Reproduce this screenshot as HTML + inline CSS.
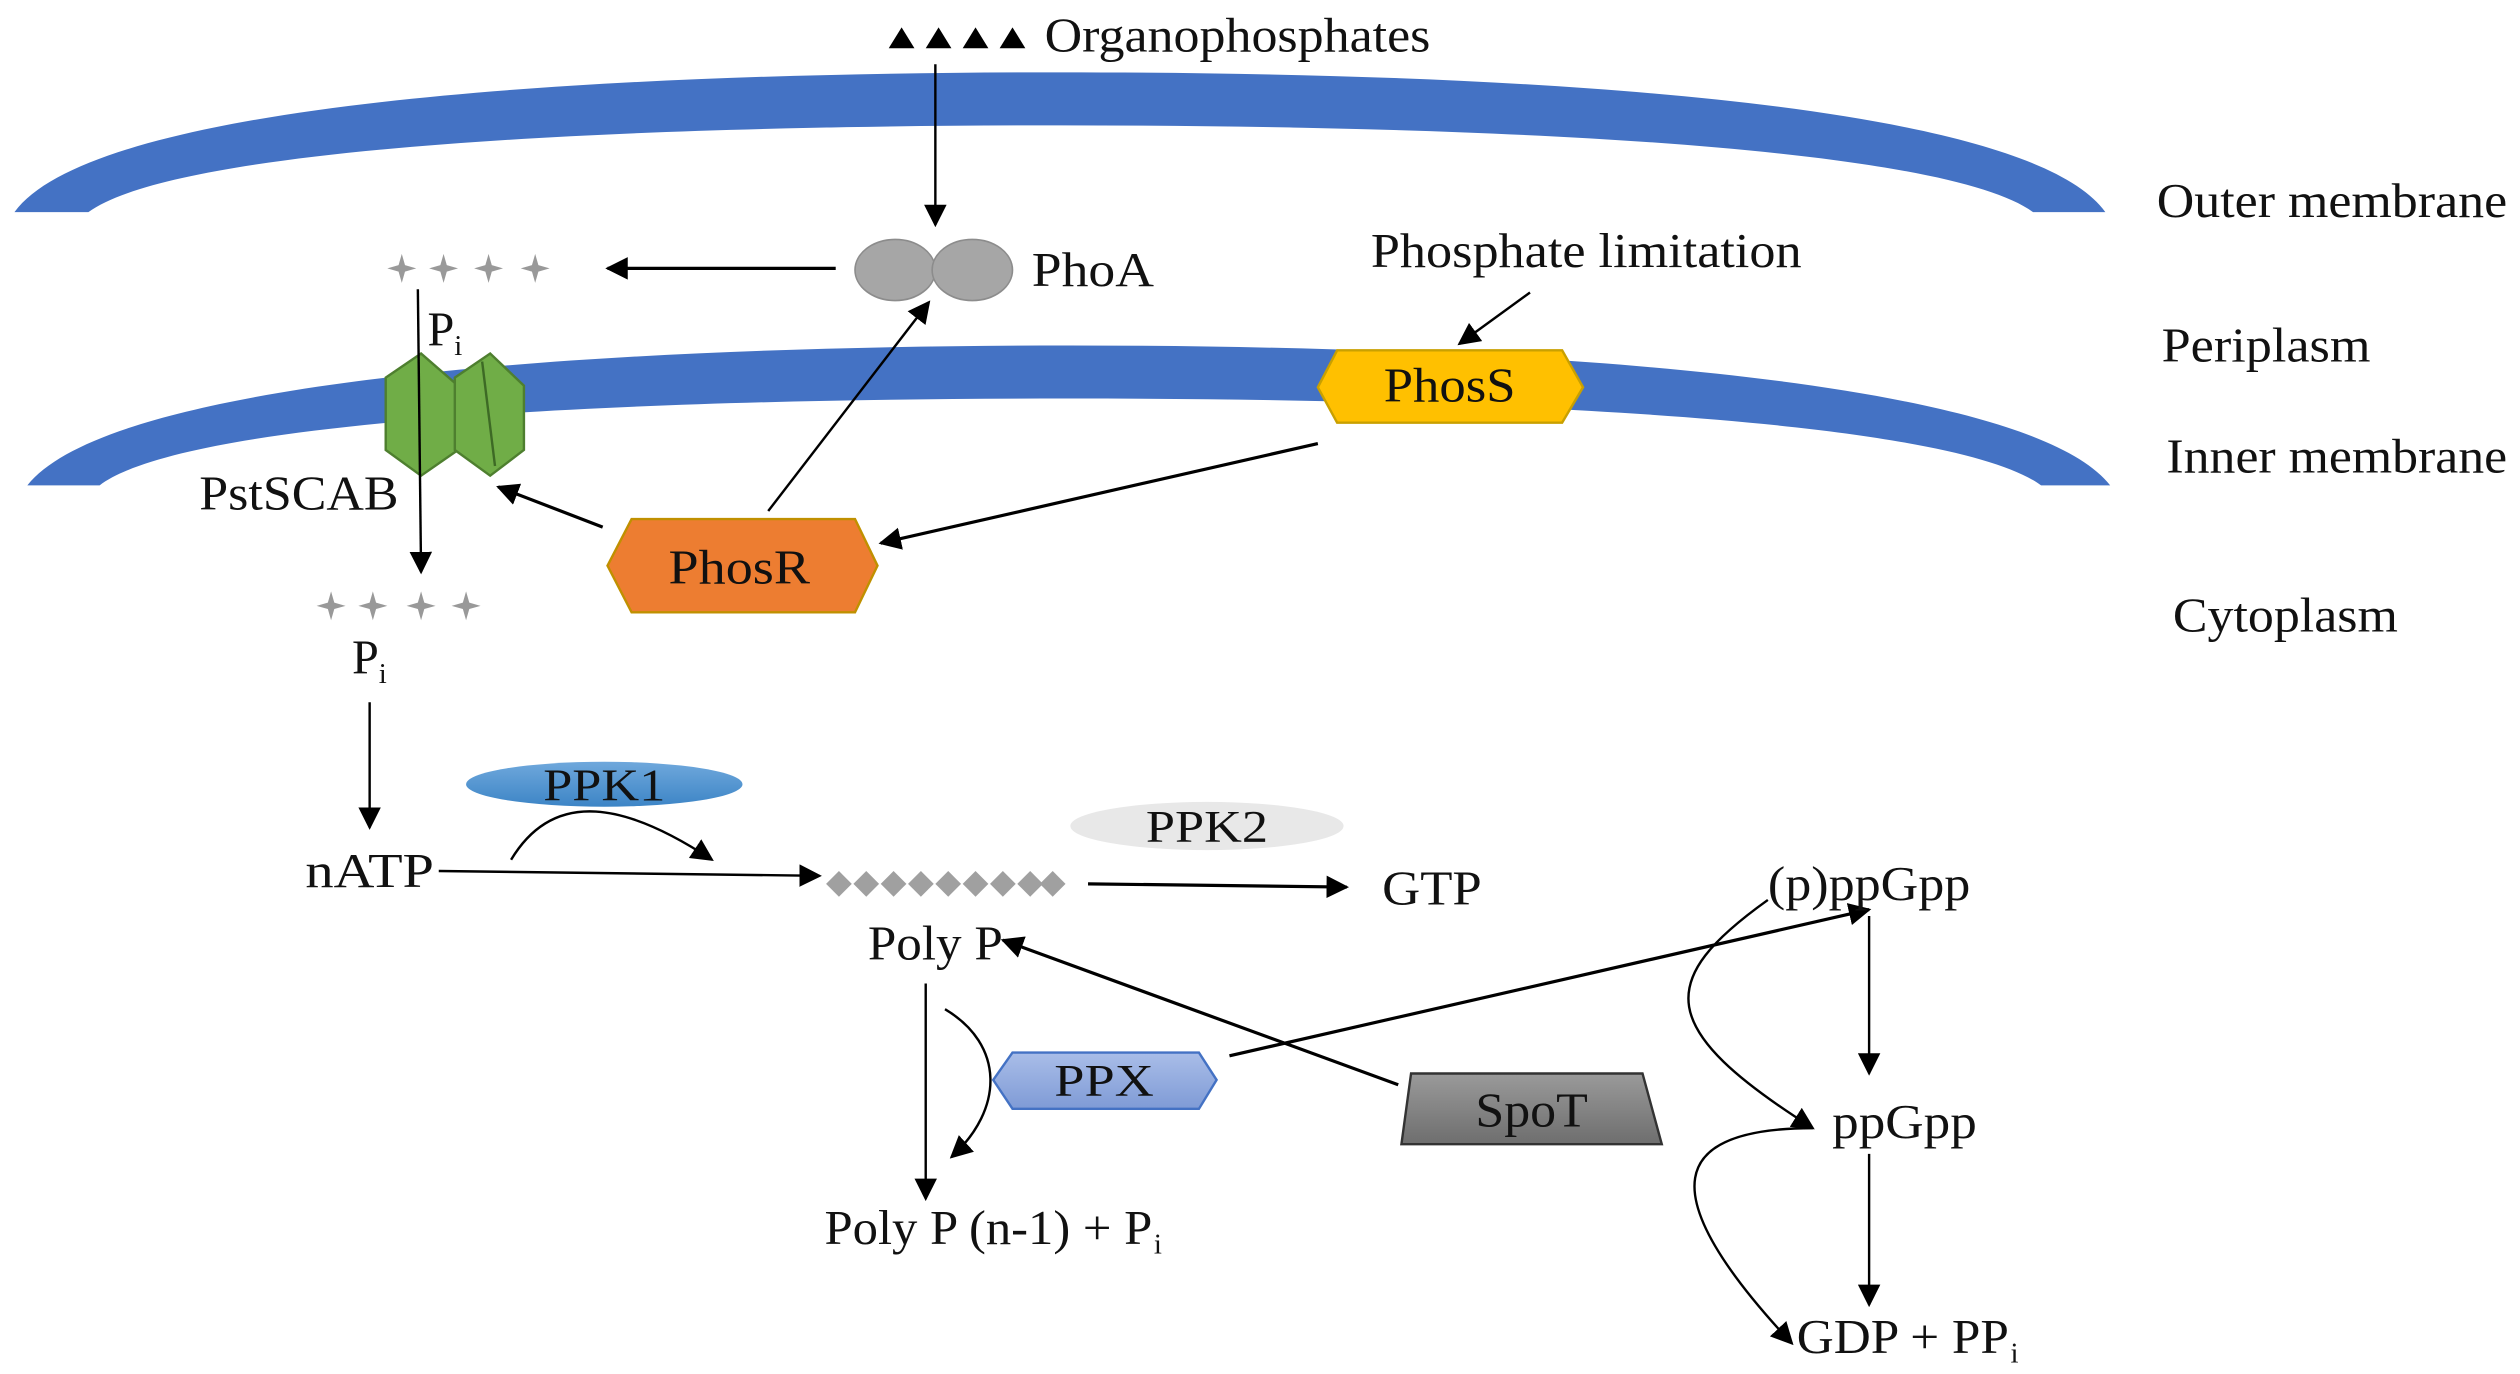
<!DOCTYPE html>
<html><head><meta charset="utf-8"><style>
html,body{margin:0;padding:0;background:#fff;}
svg{display:block;}
text{font-family:"Liberation Serif",serif;fill:#111;}
</style></head><body>
<svg width="2520" height="1374" viewBox="0 0 1568 855" preserveAspectRatio="none" xmlns="http://www.w3.org/2000/svg">
<defs>
<marker id="a" viewBox="0 0 10 10" refX="9" refY="5" markerWidth="7" markerHeight="7" orient="auto" markerUnits="userSpaceOnUse"><path d="M0,0 L10,5 L0,10 z" fill="#000"/></marker>
<marker id="b" viewBox="0 0 10 10" refX="9" refY="5" markerWidth="14" markerHeight="14" orient="auto" markerUnits="userSpaceOnUse"><path d="M0,0 L10,5 L0,10 z" fill="#000"/></marker>
<linearGradient id="g1" x1="0" y1="0" x2="0" y2="1"><stop offset="0" stop-color="#6fa8dc"/><stop offset="1" stop-color="#3d85c6"/></linearGradient>
<linearGradient id="g2" x1="0" y1="0" x2="0" y2="1"><stop offset="0" stop-color="#a9bde8"/><stop offset="1" stop-color="#7f9bd6"/></linearGradient>
<linearGradient id="g3" x1="0" y1="0" x2="0" y2="1"><stop offset="0" stop-color="#9a9a9a"/><stop offset="1" stop-color="#6e6e6e"/></linearGradient>
<g id="st"><path d="M0,-9 L2,-2 L9,0 L2,2 L0,9 L-2,2 L-9,0 L-2,-2 z" fill="#999"/></g>
</defs>

<!-- membranes -->
<path d="M9,132 C60,62 380,45 660,45 C940,45 1260,62 1310,132 L1265,132 C1210,92 940,78 660,78 C380,78 110,92 55,132 Z" fill="#4472c4"/>
<path d="M17,302 C70,235 380,215 665,215 C950,215 1260,235 1313,302 L1270,302 C1215,262 950,248 665,248 C380,248 115,262 62,302 Z" fill="#4472c4"/>

<!-- top -->
<path d="M553,30 l8,-13 l8,13z M576,30 l8,-13 l8,13z M599,30 l8,-13 l8,13z M622,30 l8,-13 l8,13z" fill="#000"/>
<text x="650" y="32" font-size="30" textLength="240" lengthAdjust="spacingAndGlyphs">Organophosphates</text>
<line x1="582" y1="40" x2="582" y2="140" stroke="#000" stroke-width="1.5" marker-end="url(#b)"/>
<ellipse cx="557" cy="168" rx="25" ry="19" fill="#a6a6a6" stroke="#8c8c8c"/>
<ellipse cx="605" cy="168" rx="25" ry="19" fill="#a6a6a6" stroke="#8c8c8c"/>
<text x="642" y="178" font-size="30" textLength="76" lengthAdjust="spacingAndGlyphs">PhoA</text>
<line x1="520" y1="167" x2="378" y2="167" stroke="#000" stroke-width="2" marker-end="url(#b)"/>
<use href="#st" x="250" y="167"/><use href="#st" x="276" y="167"/><use href="#st" x="304" y="167"/><use href="#st" x="333" y="167"/>
<text x="266" y="215" font-size="30">P<tspan font-size="18" dy="6">i</tspan></text>

<!-- PstSCAB -->
<path d="M240,235 L262,220 L285,240 L285,280 L262,296 L240,280 Z" fill="#70ad47" stroke="#4e7f2f" stroke-width="1.5"/>
<path d="M283,235 L305,220 L326,240 L326,280 L305,296 L283,280 Z" fill="#70ad47" stroke="#4e7f2f" stroke-width="1.5"/>
<line x1="300" y1="225" x2="308" y2="290" stroke="#3d6a25" stroke-width="1.5"/>
<line x1="260" y1="180" x2="262" y2="356" stroke="#000" stroke-width="1.5" marker-end="url(#b)"/>
<text x="124" y="317" font-size="30" textLength="124" lengthAdjust="spacingAndGlyphs">PstSCAB</text>
<line x1="375" y1="328" x2="310" y2="303" stroke="#000" stroke-width="2" marker-end="url(#b)"/>

<!-- PhosR -->
<path d="M378,352 L393,323 L532,323 L546,352 L532,381 L393,381 Z" fill="#ed7d31" stroke="#c09000" stroke-width="1.5"/>
<text x="460" y="363" font-size="30" text-anchor="middle" textLength="88" lengthAdjust="spacingAndGlyphs">PhosR</text>
<line x1="478" y1="318" x2="578" y2="188" stroke="#000" stroke-width="1.5" marker-end="url(#b)"/>

<!-- PhosS -->
<text x="853" y="166" font-size="30" textLength="268" lengthAdjust="spacingAndGlyphs">Phosphate limitation</text>
<line x1="952" y1="182" x2="908" y2="214" stroke="#000" stroke-width="1.5" marker-end="url(#b)"/>
<path d="M820,241 L832,218 L972,218 L985,241 L972,263 L832,263 Z" fill="#ffc000" stroke="#c9a000" stroke-width="1.5"/>
<text x="902" y="250" font-size="30" text-anchor="middle" textLength="82" lengthAdjust="spacingAndGlyphs">PhosS</text>
<line x1="820" y1="276" x2="548" y2="338" stroke="#000" stroke-width="2" marker-end="url(#b)"/>

<!-- side labels -->
<text x="1342" y="135" font-size="30" textLength="218" lengthAdjust="spacingAndGlyphs">Outer membrane</text>
<text x="1345" y="225" font-size="30" textLength="130" lengthAdjust="spacingAndGlyphs">Periplasm</text>
<text x="1348" y="294" font-size="30" textLength="212" lengthAdjust="spacingAndGlyphs">Inner membrane</text>
<text x="1352" y="393" font-size="30" textLength="140" lengthAdjust="spacingAndGlyphs">Cytoplasm</text>

<!-- cytoplasm -->
<use href="#st" x="206" y="377"/><use href="#st" x="232" y="377"/><use href="#st" x="262" y="377"/><use href="#st" x="290" y="377"/>
<text x="219" y="419" font-size="30">P<tspan font-size="18" dy="6">i</tspan></text>
<line x1="230" y1="437" x2="230" y2="515" stroke="#000" stroke-width="1.5" marker-end="url(#b)"/>
<text x="190" y="552" font-size="30" textLength="80" lengthAdjust="spacingAndGlyphs">nATP</text>
<line x1="273" y1="542" x2="510" y2="545" stroke="#000" stroke-width="1.5" marker-end="url(#b)"/>
<ellipse cx="376" cy="488" rx="86" ry="14" fill="url(#g1)"/>
<text x="376" y="498" font-size="28" text-anchor="middle" textLength="76" lengthAdjust="spacingAndGlyphs">PPK1</text>
<path d="M318,535 C345,490 390,500 443,535" fill="none" stroke="#000" stroke-width="1.5" marker-end="url(#b)"/>
<g fill="#a0a0a0">
<path d="M514,550 l8,-8 l8,8 l-8,8z"/><path d="M531,550 l8,-8 l8,8 l-8,8z"/><path d="M548,550 l8,-8 l8,8 l-8,8z"/><path d="M565,550 l8,-8 l8,8 l-8,8z"/><path d="M582,550 l8,-8 l8,8 l-8,8z"/><path d="M599,550 l8,-8 l8,8 l-8,8z"/><path d="M616,550 l8,-8 l8,8 l-8,8z"/><path d="M633,550 l8,-8 l8,8 l-8,8z"/><path d="M647,550 l8,-8 l8,8 l-8,8z"/>
</g>
<text x="540" y="597" font-size="30" textLength="84" lengthAdjust="spacingAndGlyphs">Poly P</text>
<ellipse cx="751" cy="514" rx="85" ry="15" fill="#e8e8e8"/>
<text x="751" y="524" font-size="28" text-anchor="middle" textLength="76" lengthAdjust="spacingAndGlyphs">PPK2</text>
<line x1="677" y1="550" x2="838" y2="552" stroke="#000" stroke-width="2" marker-end="url(#b)"/>
<text x="860" y="563" font-size="30" textLength="62" lengthAdjust="spacingAndGlyphs">GTP</text>

<!-- PPX / SpoT -->
<line x1="870" y1="675" x2="624" y2="585" stroke="#000" stroke-width="2" marker-end="url(#b)"/>
<line x1="765" y1="657" x2="1163" y2="566" stroke="#000" stroke-width="2" marker-end="url(#b)"/>
<path d="M618,672 L630,655 L746,655 L757,672 L746,690 L630,690 Z" fill="url(#g2)" stroke="#4472c4" stroke-width="1.5"/>
<text x="687" y="682" font-size="28" text-anchor="middle" textLength="62" lengthAdjust="spacingAndGlyphs">PPX</text>
<line x1="576" y1="612" x2="576" y2="746" stroke="#000" stroke-width="1.5" marker-end="url(#b)"/>
<path d="M588,628 C625,650 625,690 592,720" fill="none" stroke="#000" stroke-width="1.5" marker-end="url(#b)"/>
<text x="513" y="774" font-size="30" textLength="204" lengthAdjust="spacingAndGlyphs">Poly P (n-1) + P</text>
<text x="718" y="780" font-size="18">i</text>
<path d="M878,668 L1022,668 L1034,712 L872,712 Z" fill="url(#g3)" stroke="#333" stroke-width="1.5"/>
<text x="953" y="701" font-size="30" text-anchor="middle" textLength="70" lengthAdjust="spacingAndGlyphs">SpoT</text>

<!-- ppGpp -->
<text x="1100" y="560" font-size="30" textLength="126" lengthAdjust="spacingAndGlyphs">(p)ppGpp</text>
<line x1="1163" y1="570" x2="1163" y2="668" stroke="#000" stroke-width="1.5" marker-end="url(#b)"/>
<text x="1140" y="708" font-size="30" textLength="90" lengthAdjust="spacingAndGlyphs">ppGpp</text>
<line x1="1163" y1="718" x2="1163" y2="812" stroke="#000" stroke-width="1.5" marker-end="url(#b)"/>
<text x="1118" y="842" font-size="30" textLength="132" lengthAdjust="spacingAndGlyphs">GDP + PP</text>
<text x="1251" y="848" font-size="18">i</text>
<path d="M1100,560 C1030,610 1030,640 1128,702" fill="none" stroke="#000" stroke-width="1.5" marker-end="url(#b)"/>
<path d="M1128,702 C1040,702 1025,740 1115,836" fill="none" stroke="#000" stroke-width="1.5" marker-end="url(#b)"/>
</svg>
</body></html>
